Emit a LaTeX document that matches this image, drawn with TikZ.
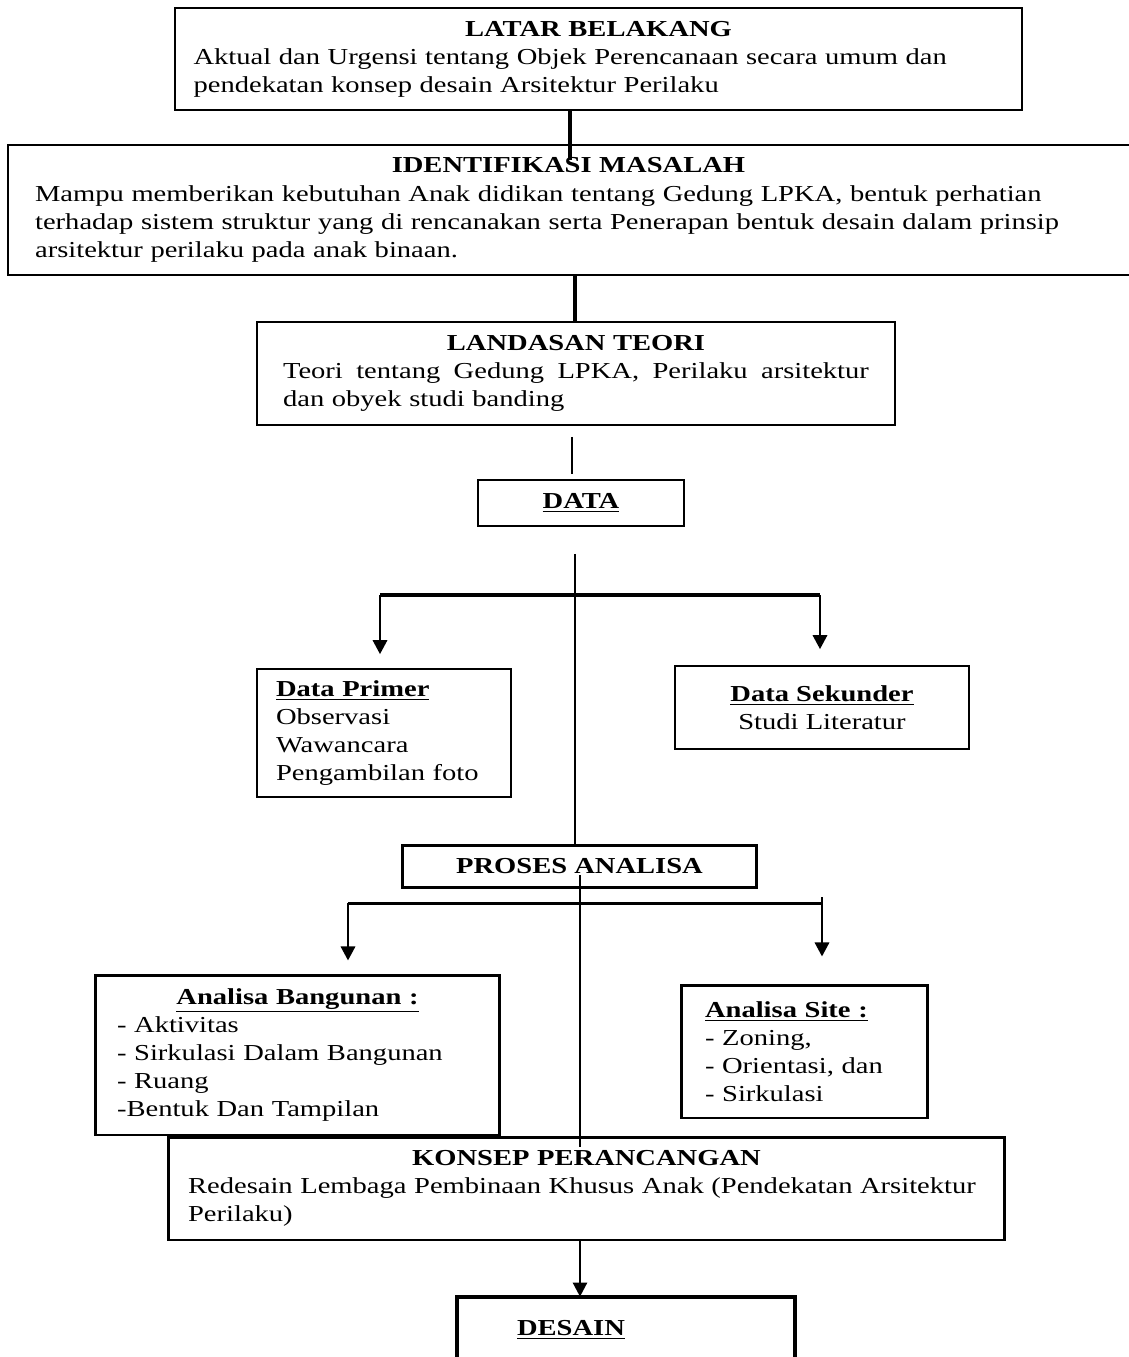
\documentclass[tikz,border=0pt]{standalone}
\usepackage{fontspec}
\setmainfont{Liberation Serif}[FakeStretch=1.25]
\usetikzlibrary{arrows.meta,positioning}

\begin{document}
\begin{tikzpicture}[
  x=0.02cm,y=-0.02cm,
  font=\fontsize{13}{16}\selectfont,
  box/.style={draw,line width=1.1pt,inner sep=0pt,align=left},
  boxs/.style={box,line width=0.9pt},
  boxb/.style={box,line width=1.7pt},
  arr/.style={line width=1.7pt,-{Triangle[length=8pt,width=8pt]}},
]
  \useasboundingbox (0,0) rectangle (1129,1357);

  % Latar belakang
  \node[box,minimum width=16.94cm,minimum height=2.04cm,text width=16.2cm] (latar) at (598.5,59) {
    {\centering\textbf{LATAR BELAKANG}\par}
    Aktual dan Urgensi tentang Objek Perencanaan secara umum dan\\
    pendekatan konsep desain Arsitektur Perilaku
  };
  % Identifikasi masalah (open on the right)
  \node[inner sep=0pt,align=left,minimum width=22.42cm,minimum height=2.6cm,text width=21.34cm] (ident) at (568.5,210) {
    {\centering\textbf{IDENTIFIKASI MASALAH}\par}
    Mampu memberikan kebutuhan Anak didikan tentang Gedung LPKA, bentuk perhatian\\
    terhadap sistem struktur yang di rencanakan serta Penerapan bentuk desain dalam prinsip\\
    arsitektur perilaku pada anak binaan.
  };
  \draw[line width=1.1pt] (ident.north east) -- (ident.north west) -- (ident.south west) -- (ident.south east);
  % Landasan teori
  \node[box,minimum width=12.76cm,minimum height=2.06cm,text width=11.72cm] (landasan) at (576,373.5) {
    {\centering\textbf{LANDASAN TEORI}\par}
    Teori\hfill tentang\hfill Gedung\hfill LPKA,\hfill Perilaku\hfill arsitektur\\
    dan obyek studi banding
  };
  % Data
  \node[box,minimum width=4.12cm,minimum height=0.92cm] (data) at (581,503) {\underline{\textbf{DATA}}};
  \node[boxs,minimum width=5.08cm,minimum height=2.56cm,text width=4.32cm] (primer) at (384,733) {
    \underline{\textbf{Data Primer}}\\
    Observasi\\
    Wawancara\\
    Pengambilan foto
  };
  \node[boxs,minimum width=5.88cm,minimum height=1.66cm,align=center] (sekunder) at (822,707.5) {
    \underline{\textbf{Data Sekunder}}\\
    Studi Literatur
  };
  % Analisa
  \node[boxb,minimum width=7.1cm,minimum height=0.84cm] (proses) at (579.5,866) {\textbf{PROSES ANALISA}};
  \node[boxb,minimum width=8.1cm,minimum height=3.2cm,text width=7.22cm] (bangunan) at (297.5,1055) {
    {\centering\underline{\textbf{Analisa Bangunan :}}\par}
    - Aktivitas\\
    - Sirkulasi Dalam Bangunan\\
    - Ruang\\
    -Bentuk Dan Tampilan
  };
  \node[boxb,minimum width=4.94cm,minimum height=2.66cm,text width=3.98cm] (site) at (804.5,1051.5) {
    \underline{\textbf{Analisa Site :}}\\
    - Zoning,\\
    - Orientasi, dan\\
    - Sirkulasi
  };
  % Konsep dan desain
  \node[boxb,minimum width=16.74cm,minimum height=2.06cm,text width=15.94cm] (konsep) at (586.5,1188.5) {
    {\centering\textbf{KONSEP PERANCANGAN}\par}
    Redesain Lembaga Pembinaan Khusus Anak (Pendekatan Arsitektur\\
    Perilaku)
  };
  \node[inner sep=0pt,minimum width=6.76cm,minimum height=1.2cm] (desainbox) at (626,1327) {};
  \draw[line width=2.3pt] (desainbox.south west) -- (desainbox.north west) -- (desainbox.north east) -- (desainbox.south east);
  \node (desain) at (571,1330) {\underline{\textbf{DESAIN}}};

  % Connectors
  \coordinate (colA) at (570,0);
  \coordinate (colB) at (575,0);
  \coordinate (colC) at (580,0);
  \coordinate (colD) at (572,0);
  \draw[line width=2.3pt,shorten >=-0.3cm] (latar.south -| colA) -- (ident.north -| colA);
  \draw[line width=2.3pt] (ident.south -| colB) -- (landasan.north -| colB);
  \draw[line width=1.4pt,shorten <=0.22cm,shorten >=0.1cm] (landasan.south -| colD) -- (data.north -| colD);
  \draw[line width=1.1pt,shorten <=0.54cm] (data.south -| colB) -- (proses.north -| colB);

  % Split to data
  \coordinate (splitL) at (380,595);
  \coordinate (splitR) at (820,595);
  \draw[line width=2.8pt] (splitL) -- (splitR);
  \draw[arr,shorten >=0.28cm] (splitL) -- (primer.north -| splitL);
  \draw[arr,shorten >=0.32cm] (splitR) -- (sekunder.north -| splitR);

  % Split to analisa
  \coordinate (anaL) at (348,903);
  \coordinate (anaR) at (822,897);
  \draw[line width=1.7pt] (anaL) -- (anaL -| anaR);
  \draw[arr,shorten >=0.26cm] (anaL) -- (bangunan.north -| anaL);
  \draw[arr,shorten >=0.54cm] (anaR) -- (site.north -| anaR);

  \coordinate (trunkin) at (580,875);
  \coordinate (trunkout) at (580,1147);
  \draw[line width=1.1pt] (trunkin) -- (trunkout);
  \draw[line width=1.4pt,-{Triangle[length=8pt,width=8pt]}] (konsep.south -| colC) -- (desainbox.north -| colC);
\end{tikzpicture}
\end{document}
